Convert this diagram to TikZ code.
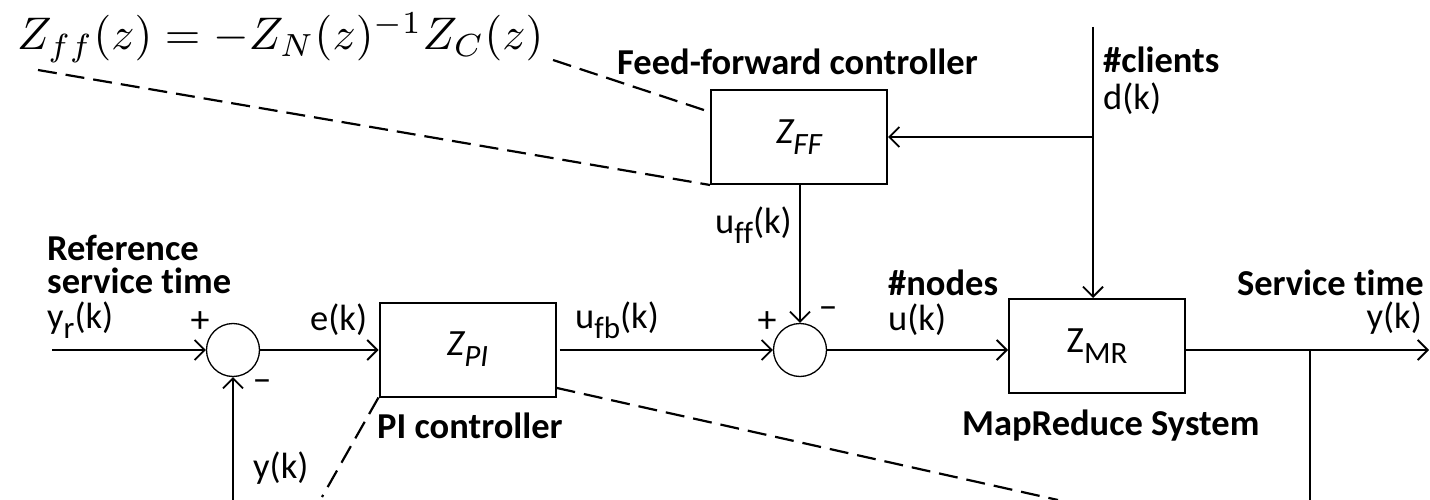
\documentclass[tikz,border=0pt]{standalone}
\usepackage{fontspec}
\setmainfont{Carlito}[Ligatures=NoCommon]
\usetikzlibrary{arrows.meta,calc}

% lowered, slightly smaller subscript in the label font
\newcommand{\lsub}[1]{\raisebox{-0.3em}{\fontsize{31}{31}\selectfont #1}}

\tikzset{
  box/.style={draw, line width=2pt, minimum width=176pt, minimum height=94pt, inner sep=0pt,
              font=\fontsize{37}{42}\selectfont},
  sumnode/.style={draw, circle, line width=1.3pt, minimum size=53pt, inner sep=0pt},
  arr/.style={line width=1.8pt, -{Straight Barb[length=10pt,width=20pt,line width=1.8pt]}},
  wire/.style={line width=1.8pt},
  guide/.style={line width=2.2pt, dash pattern=on 19pt off 9pt},
  lbl/.style={inner sep=0pt, font=\fontsize{36.5}{42}\selectfont, text height=0.74em, text depth=0.2em},
  blbl/.style={lbl, font=\fontsize{36.5}{42}\selectfont\bfseries},
  flat/.style={text depth=0pt},
  sgn/.style={inner sep=0pt, font=\fontsize{38}{38}\selectfont}
}

\begin{document}
\begin{tikzpicture}[x=1pt, y=-1pt]
\useasboundingbox (0,0) rectangle (1430,500);

% blocks
\node[box] (ff) at (799,137) {\textit{Z\lsub{FF}}};
\node[box] (pi) at (467.5,349.5) {\textit{Z\lsub{PI}}};
\node[box] (mr) at (1097,346) {Z\lsub{MR}};

% summing junctions
\node[sumnode] (s1) at (233,350) {};
\node[sumnode] (s2) at (800,350) {};

% free ends
\coordinate (in)   at (52,350);
\coordinate (out)  at (1429,350);
\coordinate (br)   at (1310,350);
\coordinate (brlo) at (1310,500);
\coordinate (fblo) at (233,500);
\coordinate (dtop) at (1093,27);
\coordinate (eqa)  at (553,60);
\coordinate (eqb)  at (38,70);
\coordinate (pia)  at (322,497);
\coordinate (pib)  at (1058,500);

% signal paths
\draw[arr] (in) -- (s1.west);
\draw[arr] (s1.east) -- (pi.west |- s1.east);
\draw[arr, shorten <=3pt] (pi.east |- s2.west) -- (s2.west);
\draw[arr] (s2.east) -- (s2.east -| mr.west);
\draw[arr] (mr.east |- s2.east) -- (out);
\draw[wire] (br) -- (brlo);
\draw[arr] (fblo) -- (s1.south);
\draw[arr] (dtop) -- (dtop |- mr.north);
\draw[arr] (dtop |- ff.east) -- (ff.east);
\draw[arr] (ff.south -| s2.north) -- (s2.north);

% dashed call-outs
\draw[guide] (eqa) -- ($(ff.north west)!0.24!(ff.south west)$);
\draw[guide] (eqb) -- (ff.south west);
\draw[guide] (pi.south west) -- (pia);
\draw[guide] ($(pi.north east)!0.9!(pi.south east)$) -- (pib);

% transfer function of the feed-forward controller
\node[anchor=base west, inner sep=0pt] (eq) at (17,50)
  {\resizebox{526pt}{!}{$Z_{ff}(z)=-Z_N(z)^{-1}Z_C(z)$}};

% labels
\node[blbl, anchor=base west] (fflbl) at (617,75) {Feed-forward controller};
\node[blbl, flat, anchor=base west] (clients) at (1103,73) {\#clients};
\node[lbl, anchor=base west] (dk) at (1103,110) {d(k)};
\node[lbl, anchor=base west] (uff) at (715,233) {u\lsub{ff}(k)};
\node[blbl, flat, anchor=base west] (ref1) at (47,260) {Reference};
\node[blbl, flat, anchor=base west] (ref2) at (47,293) {service time};
\node[lbl, anchor=base west] (yr) at (47,328) {y\lsub{r}(k)};
\node[sgn] (p1) at (200,322) {+};
\node[sgn] (m1) at (262,386) {--};
\node[lbl, anchor=base west] (ek) at (310,330) {e(k)};
\node[blbl, anchor=base west] (pilbl) at (377,438) {PI controller};
\node[lbl, anchor=base west] (ufb) at (575,328) {u\lsub{fb}(k)};
\node[sgn] (p2) at (767,322) {+};
\node[sgn] (m2) at (828,313) {--};
\node[blbl, flat, anchor=base west] (nodes) at (888,295) {\#nodes};
\node[lbl, anchor=base west] (uk) at (888,330) {u(k)};
\node[blbl, anchor=base west] (mrlbl) at (962,435) {MapReduce System};
\node[blbl, flat, anchor=base east] (stlbl) at (1424,295) {Service time};
\node[lbl, anchor=base east] (yk) at (1422,328) {y(k)};
\node[lbl, anchor=base west] (yfb) at (253,478) {y(k)};
\end{tikzpicture}
\end{document}
